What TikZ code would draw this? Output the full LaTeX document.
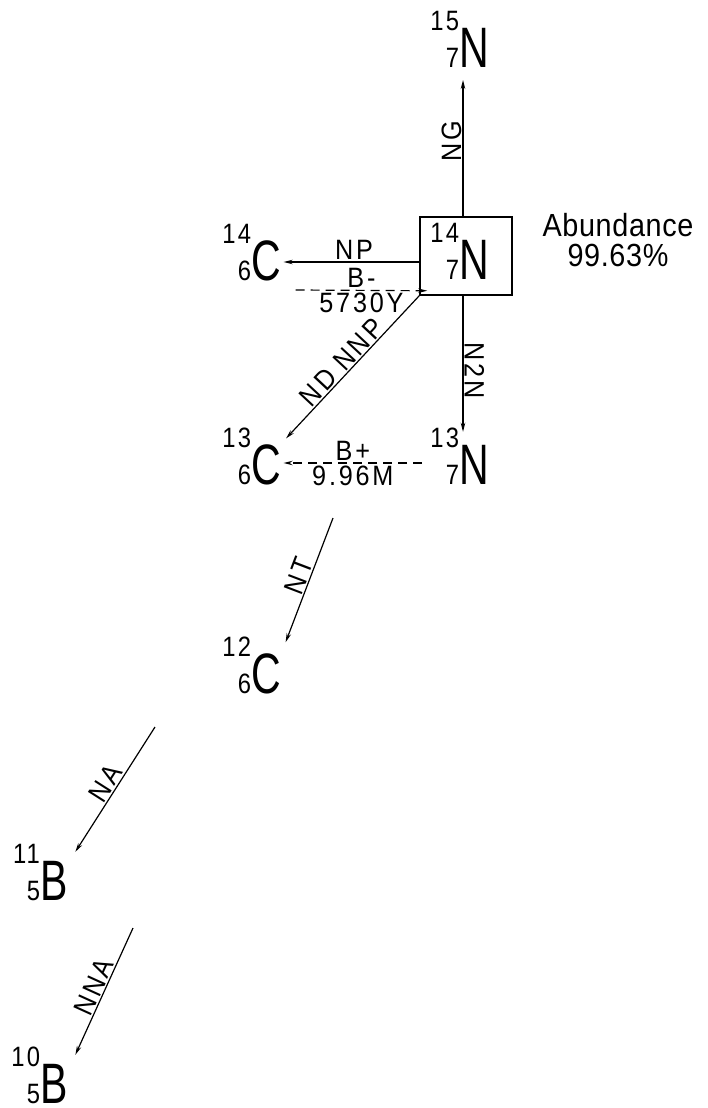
\documentclass[tikz,border=0pt]{standalone}
\usepackage{fontspec}
\usepackage{tikz}
\newfontfamily\elemfam[FakeStretch=0.72]{Liberation Sans}
\newfontfamily\digitfam[FakeStretch=0.85, LetterSpace=8]{Liberation Sans}
\newfontfamily\tagfam[FakeStretch=0.9, LetterSpace=10]{Liberation Sans}
\newfontfamily\notefam[FakeStretch=0.9, LetterSpace=2]{Liberation Sans}
\newcommand{\massfont}{\digitfam\fontsize{28}{28}\selectfont}
\newcommand{\elemfont}{\elemfam\fontsize{57}{57}\selectfont}
\newcommand{\nuclide}[3]{\llap{\massfont\smash{\raisebox{37pt}{#1}}}\llap{\massfont #2}{\elemfont #3}}
\usetikzlibrary{arrows.meta}

\begin{document}
\begin{tikzpicture}[x=1pt, y=-1pt,
    nucl/.style={inner sep=0pt, outer sep=0pt, anchor=base west},
    tag/.style={font=\tagfam\fontsize{28}{28}\selectfont, inner sep=1pt},
    rxn/.style={-{Stealth[length=9pt, width=4.5pt]}, line width=1.2pt},
    decay/.style={rxn, dash pattern=on 9pt off 6pt}
]
    \useasboundingbox (0,0) rectangle (708,1108);

    % Target box
    \node[draw, line width=1.5pt, minimum width=92pt, minimum height=78pt] (box) at (466,256) {};
    \node[nucl] (n14) at (459,279) {\nuclide{14}{7}{N}};

    % Abundance
    \node[font=\notefam\fontsize{32}{30}\selectfont, align=center, inner sep=1pt] (abund) at (618,240) {Abundance\\99.63\%};

    % Nitrogen
    \node[nucl] (n15) at (459,67) {\nuclide{15}{7}{N}};
    \node[nucl] (n13) at (459,484) {\nuclide{13}{7}{N}};

    % Carbon
    \node[nucl] (c14) at (251,280) {\nuclide{14}{6}{C}};
    \node[nucl] (c13) at (251,484) {\nuclide{13}{6}{C}};
    \node[nucl] (c12) at (251,693) {\nuclide{12}{6}{C}};

    % Boron
    \node[nucl] (b11) at (40,900) {\nuclide{11}{5}{B}};
    \node[nucl] (b10) at (40,1103) {\nuclide{10}{5}{B}};

    % Free ends
    \coordinate (nt) at (333,518);
    \coordinate (na) at (155,727);
    \coordinate (nna) at (133,928);

    % Reactions
    \draw[rxn, shorten >=13pt] ([xshift=-3pt]box.north) -- ([xshift=-3pt]box.north |- n15.south)
        node[midway, above, sloped, tag] {NG};
    \draw[rxn, shorten >=13pt] ([xshift=-3pt]box.south) -- ([xshift=-3pt]box.south |- n13.north)
        node[midway, above, sloped, tag] {N2N};
    \draw[rxn, shorten >=3pt] ([yshift=-6pt]box.west) -- ([yshift=-6pt]box.west -| c14.east)
        node[pos=0.47, above=1pt, tag] {NP};
    \draw[rxn, shorten >=8pt] (box.south west) -- (c13.north east)
        node[midway, above, sloped, tag] {ND NNP};
    \draw[rxn] (nt) -- ([xshift=5pt, yshift=11pt]c12.north east)
        node[midway, above, sloped, tag] {NT};
    \draw[rxn] (na) -- ([xshift=8pt, yshift=9pt]b11.north east)
        node[midway, above, sloped, tag] {NA};
    \draw[rxn] (nna) -- ([xshift=8pt, yshift=9pt]b10.north east)
        node[midway, above, sloped, tag] {NNA};

    % Decays
    \draw[decay] ([xshift=15pt, yshift=-10pt]c14.base east) -- ([xshift=8pt, yshift=5pt]box.south west)
        node[midway, above=1pt, tag] {B-}
        node[midway, below=1pt, tag] {5730Y};
    \draw[decay] ([xshift=-37pt, yshift=21pt]n13.base west) -- ([xshift=3pt, yshift=21pt]c13.base east)
        node[midway, above=1pt, tag] {B+}
        node[midway, below=1pt, tag] {9.96M};
\end{tikzpicture}
\end{document}
